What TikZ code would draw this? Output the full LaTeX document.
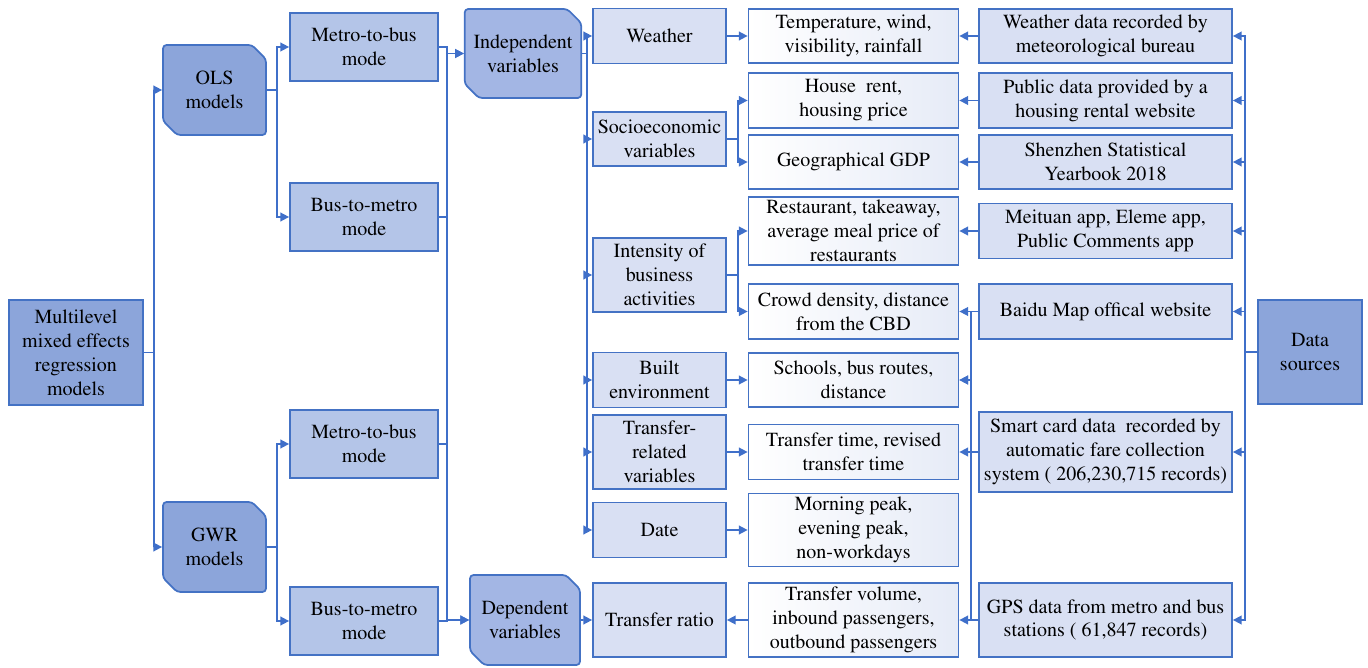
\documentclass[tikz,border=0pt]{standalone}
\usepackage[T1]{fontenc}
\usepackage{mathptmx}
\usepackage{xcolor}
\usepackage{tikz}
\usetikzlibrary{arrows.meta}
\usetikzlibrary{shapes.misc}
\definecolor{bordc}{HTML}{4472C4}
\definecolor{darkc}{HTML}{8CA5DA}
\definecolor{midc}{HTML}{A3B6E4}
\definecolor{modec}{HTML}{B4C5E8}
\definecolor{lightc}{HTML}{D9E0F3}
\definecolor{palec}{HTML}{E6EBF7}
\definecolor{linec}{HTML}{3F6FC9}
\tikzstyle{box}=[rectangle,draw=bordc,line width=1pt,align=center,inner sep=1pt]
\tikzstyle{darkbox}=[box,fill=darkc]
\tikzstyle{modebox}=[box,fill=modec]
\tikzstyle{lightbox}=[box,fill=lightc]
\tikzstyle{whitebox}=[box,left color=white,right color=palec]
\tikzstyle{snipbox}=[box,chamfered rectangle,chamfered rectangle corners={north east,south west},chamfered rectangle xsep=4pt,chamfered rectangle ysep=4pt,rounded corners=2pt]
\tikzstyle{edge} = [draw,line width=0.9pt,linec,->]

\begin{document}
\begin{tikzpicture}[x=0.02cm,y=-0.02cm,>={Triangle[length=5pt,width=5pt]},font=\fontsize{11.4}{13.6}\selectfont]
 \def\px{0.02cm}
 \useasboundingbox (0,0) rectangle (1368,668);

 %Models
 \foreach \x/\y/\w/\h/\name/\label in {76/352.5/134/105/multi/{Multilevel\\mixed effects\\regression\\models}, 1310/352/104/104/sources/{Data\\sources}}
        \node[darkbox, minimum width=\w*\px, minimum height=\h*\px] (\name) at (\x,\y) {\label};

 \foreach \x/\y/\w/\h/\name/\label in {214.5/90/103/90/ols/{OLS\\models}, 214.5/547/103/90/gwr/{GWR\\models}}
        \node[snipbox, fill=darkc, minimum width=\w*\px, minimum height=\h*\px] (\name) at (\x,\y) {\label};

 \foreach \x/\y/\w/\h/\name/\label in {523/53.5/110/89/indep/{Independent\\variables}, 525/620/110/90/dep/{Dependent\\variables}}
        \node[snipbox, fill=midc, minimum width=\w*\px, minimum height=\h*\px] (\name) at (\x,\y) {\label};

 %Modes
 \foreach \x/\y/\name/\label in {364/47/mb1/{Metro-to-bus\\mode}, 364/217/bm1/{Bus-to-metro\\mode}, 364/444/mb2/{Metro-to-bus\\mode}, 364/621/bm2/{Bus-to-metro\\mode}}
        \node[modebox, minimum width=148*\px, minimum height=68*\px] (\name) at (\x,\y) {\label};

 %Variables
 \foreach \x/\y/\h/\name/\label in {659.5/36/55/weather/Weather, 659.5/139/54/socio/{Socioeconomic\\variables}, 659.5/275/74/intens/{Intensity of\\business\\activities}, 659.5/380/55/built/{Built\\environment}, 659.5/452/74/trel/{Transfer-\\related\\variables}, 659.5/530/55/date/Date, 659.5/620/74/ratio/{Transfer ratio}}
        \node[lightbox, minimum width=133*\px, minimum height=\h*\px] (\name) at (\x,\y) {\label};

 %Indicators
 \foreach \x/\y/\h/\name/\label in {853.5/36/54/temp/{Temperature, wind,\\visibility, rainfall}, 853.5/100.5/55/rent/{House\ \ rent,\\housing price}, 853.5/162/54/gdp/{Geographical GDP}, 853.5/231/68/rest/{Restaurant, takeaway,\\average meal price of\\restaurants}, 853.5/311.5/55/crowd/{Crowd density, distance\\from the CBD}, 853.5/380/54/school/{Schools, bus routes,\\distance}, 853.5/452/55/ttime/{Transfer time, revised\\transfer time}, 853.5/530/73/peak/{Morning peak,\\evening peak,\\non-workdays}, 853.5/620/74/volume/{Transfer volume,\\inbound passengers,\\outbound passengers}}
        \node[whitebox, minimum width=210*\px, minimum height=\h*\px] (\name) at (\x,\y) {\label};

 %Data
 \foreach \x/\y/\h/\name/\label in {1105.5/36/54/wdata/{Weather data recorded by\\meteorological bureau}, 1105.5/100.5/55/public/{Public data provided by a\\housing rental website}, 1105.5/162/54/szyb/{Shenzhen Statistical\\Yearbook 2018}, 1105.5/231/55/meituan/{Meituan app, Eleme app,\\Public Comments app}, 1105.5/311.5/55/baidu/{Baidu Map offical website}, 1105.5/452/80/smart/{Smart card data\ \ recorded by\\automatic fare collection\\system ( 206,230,715 records)}, 1105.5/620/74/gps/{GPS data from metro and bus\\stations ( 61,847 records)}}
        \node[lightbox, minimum width=253*\px, minimum height=\h*\px] (\name) at (\x,\y) {\label};

 %Connectors
 \foreach \source/\dest/\dx in {multi/ols/10, multi/gwr/10, ols/mb1/10, ols/bm1/10, gwr/mb2/10, gwr/bm2/10, mb1/indep/8, mb2/indep/8, bm1/dep/8, bm2/dep/8, indep/weather/5, indep/socio/5, indep/intens/5, indep/built/5, indep/trel/5, indep/date/5, socio/rent/11, socio/gdp/11, intens/rest/11, intens/crowd/11}
        \path[edge] (\source.east) -- ++(\dx,0) |- (\dest.west);

 \foreach \source/\dest in {dep/ratio, weather/temp, built/school, trel/ttime, date/peak}
        \path[edge] (\source) -- (\dest);

 \foreach \source/\dest in {volume/ratio, wdata/temp, public/rent, szyb/gdp, meituan/rest, baidu/crowd, smart/ttime, gps/volume}
        \path[edge] (\source.west) -- (\dest.east);

 \foreach \source/\dest in {baidu/school, gps/school}
        \path[edge] (\source.west) -- ++(-7,0) |- (\dest.east);

 \foreach \dest in {wdata, public, szyb, meituan, baidu, smart, gps}
        \path[edge] (sources.west) -- ++(-12,0) |- (\dest.east);

\end{tikzpicture}
\end{document}
